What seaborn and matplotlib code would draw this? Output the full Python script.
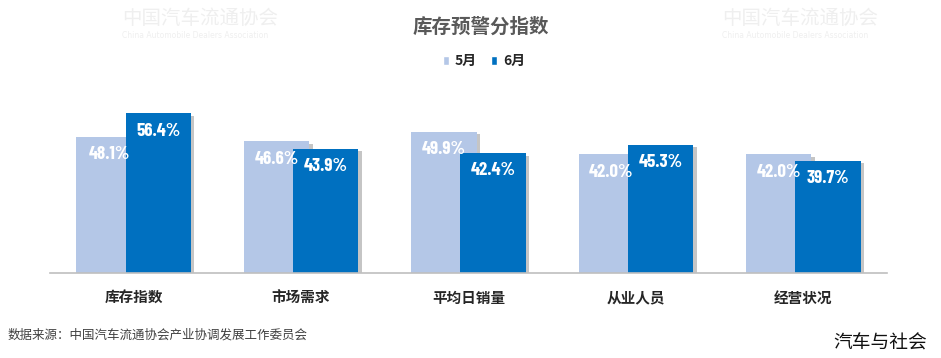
import matplotlib
matplotlib.use('Agg')
import matplotlib.pyplot as plt
import matplotlib.patheffects as pe
from matplotlib.patches import Patch
from matplotlib import font_manager
import seaborn as sns
import pandas as pd

categories = ['库存指数', '市场需求', '平均日销量', '从业人员', '经营状况']
series = ['5月', '6月']
may_values = [48.1, 46.6, 49.9, 42.0, 42.0]
june_values = [56.4, 43.9, 42.4, 45.3, 39.7]
colors = ['#B4C7E7', '#0070C0']

df = pd.DataFrame({
    'cat': categories * 2,
    'month': [series[0]] * len(categories) + [series[1]] * len(categories),
    'value': may_values + june_values,
})

sns.set_theme(style='white')
plt.rcParams['font.family'] = ['Noto Sans CJK SC', 'DejaVu Sans']

available = {f.name for f in font_manager.fontManager.ttflist}
narrow_candidates = ['Barlow Condensed', 'Oswald', 'Roboto Condensed', 'Archivo Narrow',
                     'Liberation Sans Narrow', 'Asap Condensed']
narrow = next((n for n in narrow_candidates if n in available), 'DejaVu Sans')
label_size = 13.5 if narrow != 'DejaVu Sans' else 10

W, H = 941, 358
fig = plt.figure(figsize=(W / 100, H / 100), dpi=100)
fig.patch.set_facecolor('white')

# faint watermarks (top)
def watermark(x, y, size=14):
    fig.text(x / W, 1 - y / H, '中国汽车流通协会', fontsize=size, color='#efefef',
             ha='left', va='center', zorder=-5)
    fig.text(x / W, 1 - (y + 17) / H, 'China Automobile Dealers Association', fontsize=5.5,
             color='#efefef', ha='left', va='center', zorder=-5, family=['DejaVu Sans'])

watermark(122, 18)
watermark(722, 18)

ax = fig.add_axes([50 / W, 1 - 273 / H, 837 / W, 170 / H])
ax.patch.set_alpha(0)

sns.barplot(data=df, x='cat', y='value', hue='month', order=categories,
            hue_order=series, palette=colors, width=0.78, saturation=1,
            legend=False, errorbar=None, ax=ax)

shift = 0.147
for p in ax.patches:
    w = p.get_width()
    c = p.get_x() + w / 2
    k = round(c)
    sign = -1 if c < k else 1
    p.set_x(k + sign * shift - w / 2)
    p.set_edgecolor('none')
    p.set_path_effects([pe.SimplePatchShadow(offset=(2.5, -2), shadow_rgbFace='#7f7f7f', alpha=0.45),
                        pe.Normal()])

for p in ax.patches:
    h = p.get_height()
    cx = p.get_x() + p.get_width() / 2
    ax.annotate(f'{h:.1f}%', (cx, h), xytext=(0, -13), textcoords='offset points',
                ha='center', va='center', fontsize=label_size, fontweight='bold', color='white',
                family=[narrow, 'DejaVu Sans'])

ax.set_xlim(-0.5, len(categories) - 0.5)
ax.set_ylim(0, 60)
ax.set_xlabel('')
ax.set_ylabel('')
ax.set_yticks([])
for s in ['top', 'right', 'left']:
    ax.spines[s].set_visible(False)
ax.spines['bottom'].set_color('#bfbfbf')
ax.spines['bottom'].set_linewidth(1.2)
ax.set_xticks(range(len(categories)))
ax.set_xticklabels(categories, fontsize=10.5, fontweight='bold', color='#262626')
ax.set_xticks([i - 0.5 for i in range(len(categories) + 1)], minor=True)
ax.tick_params(axis='x', which='major', length=0, pad=12)
ax.tick_params(axis='x', which='minor', length=5, width=1, color='#bfbfbf', direction='out')

fig.text(481 / W, 1 - 27 / H, '库存预警分指数', fontsize=14, fontweight='bold',
         color='#595959', ha='center', va='center')

handles = [Patch(facecolor=colors[0], label=series[0]), Patch(facecolor=colors[1], label=series[1])]
fig.legend(handles=handles, loc='center', bbox_to_anchor=(484 / W, 1 - 61 / H), ncol=2,
           frameon=False, handlelength=0.45, handleheight=0.6, handletextpad=0.4,
           columnspacing=1.0, prop={'size': 10, 'weight': 'bold'}, labelcolor='#262626')

fig.text(8 / W, 1 - 335 / H, '数据来源：中国汽车流通协会产业协调发展工作委员会', fontsize=9,
         color='#404040', ha='left', va='center')
fig.text(927 / W, 1 - 343 / H, '汽车与社会', fontsize=13.5, color='#111111',
         ha='right', va='center')

fig.savefig('out.png', dpi=100, facecolor='white')
